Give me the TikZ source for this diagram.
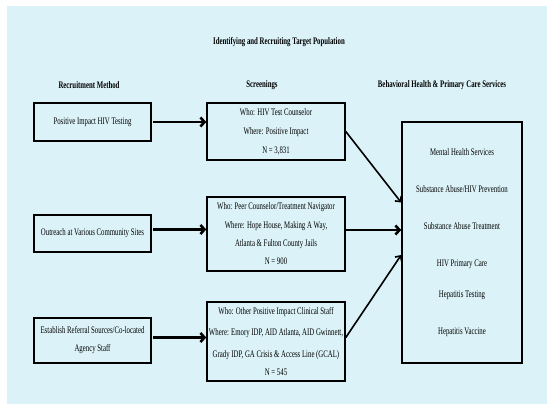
\documentclass[tikz,border=0pt]{standalone}
\usepackage{fontspec}
\setmainfont{Liberation Serif}[FakeStretch=0.68]
\usetikzlibrary{arrows.meta}
\definecolor{bgcyan}{RGB}{219,243,248}
\begin{document}
\begin{tikzpicture}[x=1pt,y=-1pt,
  box/.style={draw=black,line width=1.6pt,inner sep=0pt,align=center,font=\fontsize{10}{19}\selectfont},
  hdr/.style={font=\bfseries\fontsize{10}{11}\selectfont},
  arr/.style={line width=2.6pt,-{Straight Barb[length=4pt,width=9pt]}},
  darr/.style={line width=1.6pt,-{Straight Barb[length=4pt,width=8pt]}}]
\useasboundingbox (0,0) rectangle (547,404);
\fill[bgcyan] (7,6) rectangle (547,404);
\node[hdr] (title) at (279,42) {Identifying and Recruiting Target Population};
\node[hdr] (h1) at (89,85) {Recruitment Method};
\node[hdr] (h2) at (262,85) {Screenings};
\node[hdr] (h3) at (442,85) {Behavioral Health \& Primary Care Services};

\node[box,minimum width=117pt,minimum height=38pt] (l1) at (92.5,122) {Positive Impact HIV Testing};
\node[box,minimum width=117pt,minimum height=37pt] (l2) at (92.5,233.5) {Outreach at Various Community Sites};
\node[box,minimum width=117pt,minimum height=45pt] (l3) at (92.5,340.5) {Establish Referral Sources/Co-located\\[-1pt]Agency Staff};

\node[box,minimum width=138pt,minimum height=57pt] (m1) at (276,131.5) {Who: HIV Test Counselor\\Where: Positive Impact\\N = 3,831};
\node[box,minimum width=138pt,minimum height=74pt] (m2) at (276,234) {Who: Peer Counselor/Treatment Navigator\\Where: Hope House, Making A Way,\\[-1pt]Atlanta \& Fulton County Jails\\[-1pt]N = 900};
\node[box,minimum width=138pt,minimum height=79pt] (m3) at (276,341.5) {Who: Other Positive Impact Clinical Staff\\[2pt]Where: Emory IDP, AID Atlanta, AID Gwinnett,\\[3pt]Grady IDP, GA Crisis \& Access Line (GCAL)\\[-1pt]N = 545};

\node[box,minimum width=120pt,minimum height=241pt] (r) at (462,242.5) {Mental Health Services\\[18pt]Substance Abuse/HIV Prevention\\[18pt]Substance Abuse Treatment\\[18pt]HIV Primary Care\\[12pt]Hepatitis Testing\\[18pt]Hepatitis Vaccine};

\draw[arr,shorten <=1pt] (l1.east) -- (l1.east -| m1.west);
\draw[arr,shorten <=1pt] ([yshift=4pt]l2.east) -- ([yshift=4pt]l2.east -| m2.west);
\draw[arr,shorten <=1pt] ([yshift=3pt]l3.east) -- ([yshift=3pt]l3.east -| m3.west);

\draw[darr] (m1.east) -- ([yshift=40pt]r.west);
\draw[arr] ([yshift=4pt]m2.east) -- ([yshift=12.5pt]r.west);
\draw[darr] ([yshift=4pt]m3.east) -- ([yshift=-12.5pt]r.west);
\end{tikzpicture}
\end{document}
